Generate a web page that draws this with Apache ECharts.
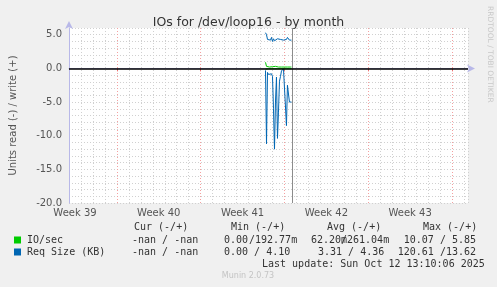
<!DOCTYPE html>
<html><head><meta charset="utf-8">
<script src="https://cdn.jsdelivr.net/npm/echarts@6/dist/echarts.min.js"></script>
<style>html,body{margin:0;padding:0;background:#F0F0F0}#c{width:497px;height:287px}</style>
</head><body><div id="c"></div>
<script>
// ---- data ----
const chartTitle = 'IOs for /dev/loop16 - by month';
const yAxisName = 'Units read (-) / write (+)';
const weekLabels = ['Week 39', 'Week 40', 'Week 41', 'Week 42', 'Week 43'];
const weekStarts = [96, 264, 432, 600, 768];      // hours since graph start
const weekLabelPos = [12, 180, 348, 516, 684];
const yMajorTicks = [-20, -15, -10, -5, 0, 5];
const nowHour = 447;
const hours = [394,396,398,400,402,404,406,408,410,412,414,416,418,420,422,424,426,428,430,432,434,436,438,440,442,444,446];
const reqRead  = [-0.3,-11.2,-0.6,-0.9,-0.7,-1.0,-0.8,-1.2,-6.0,-12.0,-5.0,-1.3,-10.4,-6.5,-1.9,-1.2,-0.4,-0.3,0.0,-0.1,-0.2,-8.5,-2.5,-2.3,-5.0,-5.0,-5.0];
const reqWrite = [5.3,5.0,4.3,4.1,4.5,4.2,4.6,4.0,4.4,4.1,4.3,4.2,4.4,4.3,4.2,4.3,4.2,4.3,4.2,4.3,4.2,4.3,4.6,4.4,4.2,4.3,4.2];
const ioRead   = [-0.1,-0.3,-0.05,-0.05,-0.1,-0.05,-0.05,-0.1,-0.05,-0.05,-0.1,-0.05,-0.05,-0.05,-0.1,-0.05,-0.05,-0.05,-0.05,-0.1,-0.05,-0.05,-0.05,-0.05,-0.05,-0.05,-0.05];
const ioWrite  = [0.9,0.3,0.2,0.25,0.2,0.3,0.2,0.25,0.2,0.2,0.3,0.2,0.25,0.2,0.2,0.25,0.2,0.2,0.3,0.2,0.2,0.25,0.2,0.2,0.25,0.2,0.2];
const legendNames = ['IO/sec', 'Req Size (KB)'];
const legendColors = ['#00CC00', '#0066B3'];
const colHeaders = ['Cur (-/+)', 'Min (-/+)', 'Avg (-/+)', 'Max (-/+)'];
const curVals = ['-nan / -nan', '-nan / -nan'];
const minVals = [['0.00', '/192.77m'], ['0.00 / 4.10']];
const avgVals = [['62.20m', '/261.04m'], ['3.31 / 4.36']];
const maxVals = ['10.07 / 5.85', '120.61 /13.62'];
const lastUpdate = 'Last update: Sun Oct 12 13:10:06 2025';
const footer = 'Munin 2.0.73';
const sideText = 'RRDTOOL / TOBI OETIKER';

// ---- chart ----
const pair = (arr) => hours.map((h, i) => [h, arr[i]]);
const mono = '10px "DejaVu Sans Mono", monospace';
const txt = (text, x, y, extra) => ({type: 'text', silent: true, style: Object.assign({text, x, y, font: mono, fill: '#333', textVerticalAlign: 'middle'}, extra || {})});

const graphics = [];
graphics.push({type: 'text', silent: true, x: 490, y: 6, rotation: -Math.PI / 2,
  style: {text: sideText, x: 0, y: 0, font: '7.5px "DejaVu Sans", sans-serif', fill: '#c8c8c8', textVerticalAlign: 'middle'}});
const colX = [134, 231, 327, 423];
colHeaders.forEach((t, i) => graphics.push(txt(t, colX[i], 227)));
const rowY = [240, 252];
legendNames.forEach((n, i) => {
  graphics.push({type: 'rect', silent: true, shape: {x: 14, y: rowY[i] - 3.5, width: 7, height: 7}, style: {fill: legendColors[i]}});
  graphics.push(txt(n, 27, rowY[i]));
  graphics.push(txt(curVals[i], 132, rowY[i]));
  graphics.push(txt(maxVals[i], 476, rowY[i], {textAlign: 'right'}));
});
graphics.push(txt(minVals[0][0], 224, rowY[0]));
graphics.push(txt(minVals[0][1], 249, rowY[0]));
graphics.push(txt(minVals[1][0], 224, rowY[1]));
graphics.push(txt(avgVals[0][0], 311, rowY[0]));
graphics.push(txt(avgVals[0][1], 341, rowY[0]));
graphics.push(txt(avgVals[1][0], 318, rowY[1]));
graphics.push(txt(lastUpdate, 262, 264));
graphics.push(txt(footer, 248, 276, {font: '8px "DejaVu Sans", sans-serif', fill: '#c4c4c4', textAlign: 'center'}));

const lineS = (name, data, color, extra) => Object.assign({
  type: 'line', name, data, color, showSymbol: false, symbol: 'none', animation: false,
  lineStyle: {width: 1, color}, itemStyle: {color}, xAxisIndex: 0, yAxisIndex: 0
}, extra || {});

const chart = echarts.init(document.getElementById('c'), null, {renderer: 'canvas'});
chart.setOption({
  backgroundColor: '#F0F0F0',
  animation: false,
  title: {text: chartTitle, left: 'center', top: 11, textStyle: {fontFamily: 'DejaVu Sans', fontSize: 12.5, fontWeight: 'normal', color: '#333'}},
  grid: {left: 68, right: 29, top: 28, bottom: 84, show: true, backgroundColor: '#FFFFFF', borderWidth: 0},
  xAxis: [
    {type: 'value', min: 0, max: 800, interval: 24,
     axisLine: {show: true, lineStyle: {color: '#B8B8E8'}, symbol: ['none', 'arrow'], symbolSize: [6, 8], symbolOffset: [0, 7]},
     axisTick: {show: false}, axisLabel: {show: false},
     splitLine: {show: true, lineStyle: {color: '#d0d0d0', type: [1, 2]}}},
    {type: 'value', min: 0, max: 800, position: 'bottom',
     axisLine: {show: false},
     axisTick: {show: true, customValues: weekStarts, length: 3, lineStyle: {color: '#F07070'}},
     axisLabel: {customValues: weekLabelPos, formatter: (v) => weekLabels[weekLabelPos.indexOf(v)], color: '#555', fontSize: 10, fontFamily: 'DejaVu Sans', margin: 5},
     splitLine: {show: true, lineStyle: {color: '#F4A0A0', type: [1, 2]}}}
  ],
  yAxis: [
    {type: 'value', min: -20, max: 6, name: yAxisName, nameLocation: 'middle', nameGap: 51,
     nameTextStyle: {fontFamily: 'DejaVu Sans', fontSize: 10, color: '#555'},
     axisLine: {show: true, lineStyle: {color: '#B8B8E8'}, symbol: ['none', 'arrow'], symbolSize: [6, 8], symbolOffset: [0, 7]},
     axisTick: {show: false, customValues: yMajorTicks},
     axisLabel: {customValues: yMajorTicks, formatter: (v) => v.toFixed(1), color: '#555', fontSize: 10, fontFamily: 'DejaVu Sans', margin: 7},
     splitLine: {show: true, lineStyle: {color: '#F4A0A0', type: [1, 2]}}},
    {type: 'value', min: -20, max: 6, interval: 1,
     axisLine: {show: false}, axisTick: {show: false}, axisLabel: {show: false},
     splitLine: {show: true, lineStyle: {color: '#d0d0d0', type: [1, 2]}}}
  ],
  graphic: graphics,
  series: [
    {type: 'line', name: 'now', data: [], color: '#8c8c8c', z: 5,
     markLine: {silent: true, symbol: 'none', label: {show: false}, animation: false,
       lineStyle: {color: '#8c8c8c', width: 1, type: 'solid'},
       data: [{xAxis: nowHour, lineStyle: {color: '#8c8c8c'}}]}},
    lineS('Req Size read', pair(reqRead), '#0066B3'),
    lineS('Req Size write', pair(reqWrite), '#0066B3'),
    lineS('IO/sec read', pair(ioRead), '#00CC00'),
    lineS('IO/sec write', pair(ioWrite), '#00CC00', {
      markLine: {silent: true, symbol: 'none', label: {show: false}, animation: false,
        lineStyle: {color: '#000000', width: 1.5, type: 'solid'},
        data: [{yAxis: 0}]}
    })
  ]
});
</script></body></html>
